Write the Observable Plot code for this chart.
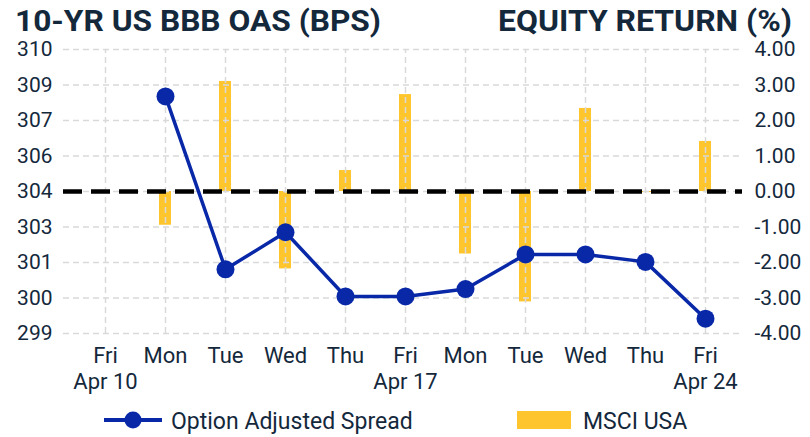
<!DOCTYPE html>
<html>
<head>
<meta charset="utf-8">
<script src="https://cdn.jsdelivr.net/npm/d3@7"></script>
<script src="https://cdn.jsdelivr.net/npm/@observablehq/plot@0.6"></script>
<style>
  html, body { margin: 0; padding: 0; background: #fff; }
  #wrap { position: relative; width: 810px; height: 437px; overflow: hidden; font-family: Roboto, sans-serif; color: #14283c; }
  #chart { position: absolute; left: 0; top: 0; }
  .overlay { position: absolute; left: 0; top: 0; pointer-events: none; }
</style>
</head>
<body>
<div id="wrap">
  <div id="chart"></div>
  <svg class="overlay" width="810" height="437" font-family="Roboto, sans-serif" fill="#14283c">
    <text x="15" y="31" font-size="30" font-weight="700" textLength="366" lengthAdjust="spacingAndGlyphs">10-YR US BBB OAS (BPS)</text>
    <text x="498" y="31" font-size="30" font-weight="700" textLength="294" lengthAdjust="spacingAndGlyphs">EQUITY RETURN (%)</text>
    <line x1="104" x2="162" y1="420" y2="420" stroke="#0828a8" stroke-width="4"></line>
    <circle cx="133" cy="420" r="8.5" fill="#0828a8"></circle>
    <text x="171" y="429" font-size="23">Option Adjusted Spread</text>
    <rect x="517" y="411" width="54" height="18" fill="#ffc52c"></rect>
    <text x="583" y="429" font-size="23">MSCI USA</text>
  </svg>
</div>
<script>
// Categories (trading days)
const dates = ["Apr 10","Apr 13","Apr 14","Apr 15","Apr 16","Apr 17","Apr 20","Apr 21","Apr 22","Apr 23","Apr 24"];
const dayLabels = ["Fri","Mon","Tue","Wed","Thu","Fri","Mon","Tue","Wed","Thu","Fri"];
const dateLabels = ["Apr 10","","","","","Apr 17","","","","","Apr 24"];

// Series values
const oasValues = [null, 308.1, 301.1, 302.6, 300.0, 300.0, 300.3, 301.7, 301.7, 301.4, 299.1]; // bps
const msciValues = [null, -0.95, 3.10, -2.18, 0.59, 2.73, -1.76, -3.11, 2.34, -0.03, 1.41];   // %

// Axes
const eqTicks = [4, 3, 2, 1, 0, -1, -2, -3, -4];
const oasTickLabels = ["310","309","307","306","304","303","301","300","299"];
const oasMin = 298.5, oasMax = 310;

const toEq = v => (v - oasMin) / (oasMax - oasMin) * 8 - 4;

const oasData = dates.map((d, i) => ({date: d, v: oasValues[i]})).filter(d => d.v != null);
const msciData = dates.map((d, i) => ({date: d, v: msciValues[i]})).filter(d => d.v != null);

const ink = "#14283c";
const gridColor = "#d9d9d9";

const chart = Plot.plot({
  width: 810,
  height: 437,
  marginTop: 49,
  marginBottom: 104,
  marginLeft: 69.5,
  marginRight: 70.5,
  style: {fontFamily: "Roboto, sans-serif", fontSize: "21px", color: ink, background: "transparent"},
  x: {type: "band", domain: dates, padding: 0},
  y: {domain: [-4, 4]},
  marks: [
    Plot.barY(msciData, {x: "date", y: "v", fill: "#ffc52c", insetLeft: 24, insetRight: 24}),
    Plot.ruleY(eqTicks, {stroke: gridColor, strokeWidth: 1.5, strokeDasharray: "6,4", insetLeft: -6.5, insetRight: -2.5}),
    Plot.ruleX(dates, {y1: -4, y2: 4, stroke: gridColor, strokeWidth: 1.5, strokeDasharray: "6,4"}),
    Plot.ruleY([0], {stroke: "#000", strokeWidth: 4.3, strokeDasharray: "19,9", insetLeft: -6.5, insetRight: -2.5}),
    Plot.line(oasData, {x: "date", y: d => toEq(d.v), stroke: "#0828a8", strokeWidth: 3.5}),
    Plot.dot(oasData, {x: "date", y: d => toEq(d.v), r: 9, fill: "#0828a8"}),
    Plot.axisY(eqTicks, {anchor: "left", tickSize: 0, tickPadding: 17.5, label: null,
      tickFormat: d => oasTickLabels[eqTicks.indexOf(d)], fill: ink}),
    Plot.axisY(eqTicks, {anchor: "right", tickSize: 0, tickPadding: 14.5, label: null,
      tickFormat: d => d.toFixed(2), fill: ink}),
    Plot.axisX(dates, {anchor: "bottom", tickSize: 0, tickPadding: 12, label: null, fontSize: 22, lineHeight: 1.15,
      tickFormat: (d) => { const i = dates.indexOf(d); return dateLabels[i] ? dayLabels[i] + "\n" + dateLabels[i] : dayLabels[i]; }, fill: ink})
  ]
});
document.getElementById("chart").appendChild(chart);
</script>
</body>
</html>
